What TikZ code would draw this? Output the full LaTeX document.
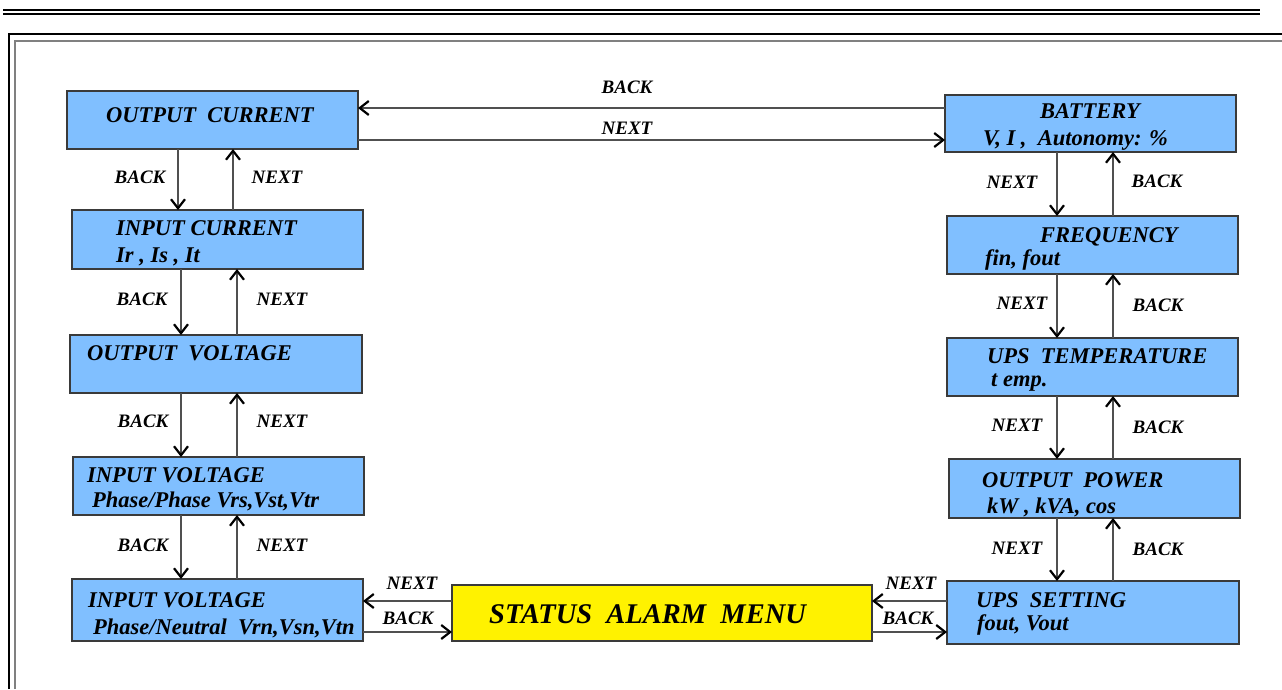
\documentclass[tikz,border=0pt]{standalone}
\usepackage{fontspec}
\setmainfont{Liberation Serif}
\usetikzlibrary{arrows.meta}
\definecolor{boxblue}{HTML}{80BFFF}
\definecolor{boxline}{HTML}{3A3A3A}
\definecolor{arrline}{HTML}{505050}
\definecolor{framegray}{HTML}{808080}
\tikzset{
  box/.style={draw=boxline, line width=1.4pt, fill=boxblue, inner sep=0pt, outer sep=0pt, anchor=north west},
  ybox/.style={box, fill=yellow},
  ttl/.style={anchor=base west, inner sep=0pt, font=\fontsize{22.5}{26}\selectfont\bfseries\itshape, text=black},
  sub/.style={anchor=base west, inner sep=0pt, font=\fontsize{22.5}{26}\selectfont\bfseries\itshape, text=black},
  lbl/.style={anchor=base, inner sep=0pt, font=\fontsize{19}{23}\selectfont\bfseries\itshape, text=black},
  arr/.style={draw=arrline, line width=1.2pt, -{Straight Barb[length=9pt,width=14pt,line width=2.2pt,color=black]}},
}
\begin{document}
\begin{tikzpicture}[x=1pt,y=-1pt]
\useasboundingbox (0,0) rectangle (1282,689);
\fill[white] (0,0) rectangle (1282,689);
% header rules and frame
\draw[line width=2pt] (3,10) -- (1260,10);
\draw[line width=2pt] (3,14) -- (1260,14);
\draw[line width=2.2pt] (9,689) -- (9,34) -- (1282,34);
\draw[framegray, line width=2pt] (15,689) -- (15,40.5) -- (1282,40.5);

% boxes
\node[box, minimum width=291pt, minimum height=58pt] (oc) at (67,91) {};
\node[box, minimum width=291pt, minimum height=59pt] (ic) at (72,210) {};
\node[box, minimum width=292pt, minimum height=58pt] (ov) at (70,335) {};
\node[box, minimum width=291pt, minimum height=58pt] (ivpp) at (73,457) {};
\node[box, minimum width=291pt, minimum height=62pt] (ivpn) at (72,579) {};
\node[ybox, minimum width=420pt, minimum height=56pt] (sam) at (452,585) {};
\node[box, minimum width=291pt, minimum height=57pt] (bat) at (945,95) {};
\node[box, minimum width=291pt, minimum height=58pt] (frq) at (947,216) {};
\node[box, minimum width=291pt, minimum height=58pt] (tmp) at (947,338) {};
\node[box, minimum width=291pt, minimum height=59pt] (opw) at (949,459) {};
\node[box, minimum width=292pt, minimum height=63pt] (set) at (947,581) {};

% box texts
\node[ttl] (oc-t) at (106,122) {OUTPUT\ \ CURRENT};
\node[ttl] (ic-t) at (116,235) {INPUT CURRENT};
\node[sub] (ic-s) at (116,262) {Ir , Is , It};
\node[ttl] (ov-t) at (87,360) {OUTPUT\ \ VOLTAGE};
\node[ttl] (ivpp-t) at (87,482) {INPUT VOLTAGE};
\node[sub] (ivpp-s) at (92,507) {Phase/Phase Vrs,Vst,Vtr};
\node[ttl] (ivpn-t) at (88,607) {INPUT VOLTAGE};
\node[sub] (ivpn-s) at (93,634) {Phase/Neutral\ \ Vrn,Vsn,Vtn};
\node[anchor=base west, inner sep=0pt, font=\fontsize{28.5}{32}\selectfont\bfseries\itshape] (sam-t) at (489,623) {STATUS\ \ ALARM\ \ MENU};
\node[ttl] (bat-t) at (1040,118) {BATTERY};
\node[sub] (bat-s) at (983,145) {V, I ,\ \ Autonomy: \%};
\node[ttl] (frq-t) at (1040,242) {FREQUENCY};
\node[sub] (frq-s) at (985,265) {fin, fout};
\node[ttl] (tmp-t) at (987,363) {UPS\ \ TEMPERATURE};
\node[sub] (tmp-s) at (991,386) {t emp.};
\node[ttl] (opw-t) at (982,487) {OUTPUT\ \ POWER};
\node[sub] (opw-s) at (987,513) {kW , kVA, cos};
\node[ttl] (set-t) at (976,607) {UPS\ \ SETTING};
\node[sub] (set-s) at (977,630) {fout, Vout};

% column coordinates
\coordinate (La) at (178,0);
\coordinate (Lb) at (233,0);
\coordinate (Lc) at (181,0);
\coordinate (Ld) at (237,0);
\coordinate (Ra) at (1057,0);
\coordinate (Rb) at (1113,0);
\coordinate (Ha) at (0,108);
\coordinate (Hb) at (0,140);
\coordinate (Hc) at (0,601);
\coordinate (Hd) at (0,632);

% left column
\draw[arr] (La |- oc.south) -- (La |- ic.north);
\draw[arr] (Lb |- ic.north) -- (Lb |- oc.south);
\draw[arr] (Lc |- ic.south) -- (Lc |- ov.north);
\draw[arr] (Ld |- ov.north) -- (Ld |- ic.south);
\draw[arr] (Lc |- ov.south) -- (Lc |- ivpp.north);
\draw[arr] (Ld |- ivpp.north) -- (Ld |- ov.south);
\draw[arr] (Lc |- ivpp.south) -- (Lc |- ivpn.north);
\draw[arr] (Ld |- ivpn.north) -- (Ld |- ivpp.south);

% right column
\draw[arr] (Ra |- bat.south) -- (Ra |- frq.north);
\draw[arr] (Rb |- frq.north) -- (Rb |- bat.south);
\draw[arr] (Ra |- frq.south) -- (Ra |- tmp.north);
\draw[arr] (Rb |- tmp.north) -- (Rb |- frq.south);
\draw[arr] (Ra |- tmp.south) -- (Ra |- opw.north);
\draw[arr] (Rb |- opw.north) -- (Rb |- tmp.south);
\draw[arr] (Ra |- opw.south) -- (Ra |- set.north);
\draw[arr] (Rb |- set.north) -- (Rb |- opw.south);

% top horizontals
\draw[arr] (bat.west |- Ha) -- (oc.east |- Ha);
\draw[arr] (oc.east |- Hb) -- (bat.west |- Hb);

% bottom horizontals
\draw[arr] (sam.west |- Hc) -- (ivpn.east |- Hc);
\draw[arr] (ivpn.east |- Hd) -- (sam.west |- Hd);
\draw[arr] (set.west |- Hc) -- (sam.east |- Hc);
\draw[arr] (sam.east |- Hd) -- (set.west |- Hd);

% labels
\node[lbl] (l1b) at (140,183) {BACK};
\node[lbl] (l1n) at (277,183) {NEXT};
\node[lbl] (l2b) at (142,305) {BACK};
\node[lbl] (l2n) at (282,305) {NEXT};
\node[lbl] (l3b) at (143,427) {BACK};
\node[lbl] (l3n) at (282,427) {NEXT};
\node[lbl] (l4b) at (143,551) {BACK};
\node[lbl] (l4n) at (282,551) {NEXT};
\node[lbl] (r1n) at (1012,188) {NEXT};
\node[lbl] (r1b) at (1157,187) {BACK};
\node[lbl] (r2n) at (1022,309) {NEXT};
\node[lbl] (r2b) at (1158,311) {BACK};
\node[lbl] (r3n) at (1017,431) {NEXT};
\node[lbl] (r3b) at (1158,433) {BACK};
\node[lbl] (r4n) at (1017,554) {NEXT};
\node[lbl] (r4b) at (1158,555) {BACK};
\node[lbl] (tb) at (627,93) {BACK};
\node[lbl] (tn) at (627,134) {NEXT};
\node[lbl] (bln) at (412,589) {NEXT};
\node[lbl] (blb) at (408,624) {BACK};
\node[lbl] (brn) at (911,589) {NEXT};
\node[lbl] (brb) at (908,624) {BACK};
\end{tikzpicture}
\end{document}
